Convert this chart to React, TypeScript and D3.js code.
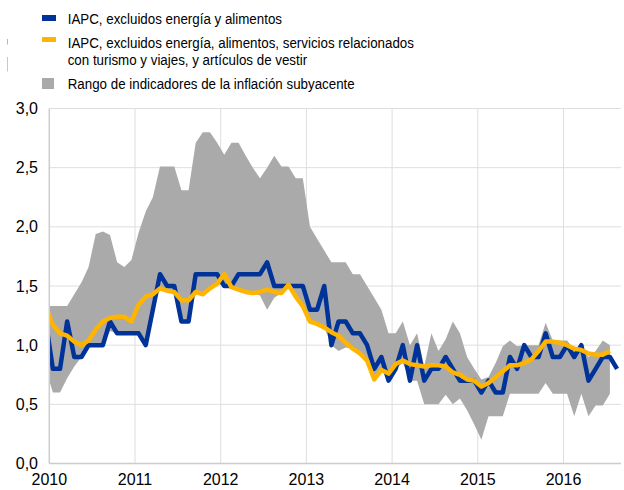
import React from "react";
import * as d3 from "d3";

// Monthly series, first entry = Dec 2009 (clipped at the axis)
const START_YEAR = 2009;
const START_MONTH = 11; // 0-based month of first value

const coreExEnergyFood = [
  1.2,
  0.8, 0.8, 1.2, 0.9, 0.9, 1.0, 1.0, 1.0, 1.2, 1.1, 1.1, 1.1,
  1.1, 1.0, 1.3, 1.6, 1.5, 1.5, 1.2, 1.2, 1.6, 1.6, 1.6, 1.6,
  1.5, 1.5, 1.6, 1.6, 1.6, 1.6, 1.7, 1.5, 1.5, 1.5, 1.5, 1.5,
  1.3, 1.3, 1.5, 1.0, 1.2, 1.2, 1.1, 1.1, 1.0, 0.8, 0.9, 0.7,
  0.8, 1.0, 0.7, 1.0, 0.7, 0.8, 0.8, 0.9, 0.8, 0.7, 0.7, 0.7,
  0.6, 0.7, 0.6, 0.6, 0.9, 0.8, 1.0, 0.9, 0.9, 1.1, 0.9, 0.9,
  1.0, 0.9, 1.0, 0.7, 0.8, 0.9, 0.9, 0.8,
];

const coreExTravelClothing = [
  1.33,
  1.17, 1.10, 1.08, 1.03, 1.00, 1.04, 1.13, 1.20, 1.23, 1.24, 1.24, 1.20,
  1.34, 1.41, 1.43, 1.48, 1.46, 1.45, 1.38, 1.38, 1.45, 1.43, 1.48, 1.52,
  1.60, 1.49, 1.47, 1.45, 1.44, 1.45, 1.47, 1.45, 1.44, 1.51, 1.41, 1.33,
  1.20, 1.18, 1.15, 1.11, 1.08, 1.02, 0.97, 0.93, 0.87, 0.71, 0.79, 0.76,
  0.84, 0.87, 0.84, 0.83, 0.82, 0.83, 0.83, 0.82, 0.77, 0.75, 0.71, 0.70,
  0.65, 0.68, 0.73, 0.78, 0.83, 0.83, 0.85, 0.88, 0.95, 1.03, 1.03, 1.02,
  1.00, 0.97, 0.96, 0.93, 0.92, 0.92, 0.95,
];

const rangeUpper = [
  1.33,
  1.33, 1.33, 1.33, 1.43, 1.53, 1.66, 1.94, 1.96, 1.93, 1.70, 1.66, 1.72,
  1.95, 2.13, 2.25, 2.51, 2.51, 2.51, 2.31, 2.31, 2.71, 2.80, 2.80, 2.71,
  2.61, 2.71, 2.71, 2.60, 2.50, 2.41, 2.50, 2.60, 2.51, 2.51, 2.41, 2.41,
  2.00, 1.90, 1.80, 1.70, 1.70, 1.70, 1.60, 1.60, 1.50, 1.40, 1.30, 1.10,
  1.10, 1.20, 1.00, 1.10, 0.82, 1.10, 0.95, 1.05, 1.20, 1.10, 0.90, 0.80,
  0.71, 0.73, 0.85, 0.99, 1.04, 0.99, 1.00, 1.00, 1.00, 1.19, 1.04, 1.04,
  1.04, 0.96, 0.99, 0.90, 0.95, 1.04, 1.00,
];

const rangeLower = [
  0.8,
  0.60, 0.60, 0.72, 0.82, 0.90, 1.00, 1.00, 1.00, 1.12, 1.10, 1.10, 1.10,
  1.10, 1.00, 1.30, 1.48, 1.46, 1.45, 1.20, 1.20, 1.45, 1.43, 1.48, 1.52,
  1.50, 1.49, 1.47, 1.45, 1.44, 1.42, 1.30, 1.40, 1.44, 1.50, 1.41, 1.33,
  1.20, 1.18, 1.15, 1.00, 0.95, 0.98, 0.97, 0.93, 0.87, 0.71, 0.79, 0.70,
  0.80, 0.85, 0.70, 0.70, 0.50, 0.50, 0.50, 0.58, 0.50, 0.55, 0.45, 0.33,
  0.20, 0.40, 0.40, 0.40, 0.59, 0.59, 0.59, 0.59, 0.59, 0.68, 0.59, 0.59,
  0.59, 0.40, 0.59, 0.40, 0.49, 0.49, 0.59,
];

const yTicks = [0, 0.5, 1.0, 1.5, 2.0, 2.5, 3.0];
const xTicks = [2010, 2011, 2012, 2013, 2014, 2015, 2016];

const legendLabels = [
  ["IAPC, excluidos energía y alimentos"],
  ["IAPC, excluidos energía, alimentos, servicios relacionados", "con turismo y viajes, y artículos de vestir"],
  ["Rango de indicadores de la inflación subyacente"],
];

const BLUE = "#003399";
const YELLOW = "#FFB400";
const GREY = "#AAAAAA";
const FONT = "'Liberation Sans', Arial, sans-serif";

const monthTime = (i: number) => START_YEAR + (START_MONTH + i + 0.5) / 12;

export default function App() {
  const left = 49.3;
  const right = 621;
  const top = 108.5;
  const bottom = 463.5;
  const yearW = 85.7;

  const x = d3.scaleLinear().domain([2010, 2017]).range([left, left + 7 * yearW]);
  const y = d3.scaleLinear().domain([0, 3]).range([bottom, top]);

  const band = rangeUpper.map((u, i) => ({ t: monthTime(i), hi: u, lo: rangeLower[i] }));
  const area = d3
    .area<{ t: number; hi: number; lo: number }>()
    .x((d) => x(d.t))
    .y0((d) => y(d.lo))
    .y1((d) => y(d.hi));

  const line = d3
    .line<{ t: number; v: number }>()
    .x((d) => x(d.t))
    .y((d) => y(d.v));

  const blueData = coreExEnergyFood.map((v, i) => ({ t: monthTime(i), v }));
  const yellowData = coreExTravelClothing.map((v, i) => ({ t: monthTime(i), v }));

  const fmt = (v: number) => d3.format(".1f")(v).replace(".", ",");

  return (
    <svg
      width={624}
      height={490}
      style={{ position: "absolute", left: 0, top: 0, background: "#fff" }}
      fontFamily={FONT}
    >
      <defs>
        <clipPath id="plot">
          <rect x={left} y={0} width={right - left} height={bottom} />
        </clipPath>
      </defs>

      {/* gridlines */}
      {yTicks.filter((t) => t > 0).map((t) => (
        <line key={"gy" + t} x1={left} x2={right} y1={y(t)} y2={y(t)} stroke="#dedede" strokeWidth={1} />
      ))}
      {xTicks.filter((t) => t > 2010).map((t) => (
        <line key={"gx" + t} x1={x(t)} x2={x(t)} y1={top} y2={bottom} stroke="#dedede" strokeWidth={1} />
      ))}

      <g clipPath="url(#plot)">
        <path d={area(band) || ""} fill={GREY} stroke="none" />
        <path d={line(blueData) || ""} fill="none" stroke={BLUE} strokeWidth={4.5} strokeLinejoin="round" />
        <path d={line(yellowData) || ""} fill="none" stroke={YELLOW} strokeWidth={4.5} strokeLinejoin="round" />
      </g>

      {/* axes */}
      <line x1={left} x2={left} y1={top} y2={bottom} stroke="#cccccc" strokeWidth={1.5} />
      <line x1={left} x2={right} y1={bottom} y2={bottom} stroke="#cccccc" strokeWidth={1.5} />

      {yTicks.map((t) => (
        <text key={"ty" + t} x={38} y={y(t) + 5.5} textAnchor="end" fontSize={16} fill="#000">
          {fmt(t)}
        </text>
      ))}
      {xTicks.map((t) => (
        <text key={"tx" + t} x={x(t)} y={485} textAnchor="middle" fontSize={16} fill="#000">
          {t}
        </text>
      ))}

      {/* small edge marks */}
      <line x1={7.5} x2={7.5} y1={39} y2={44.5} stroke={YELLOW} strokeWidth={1} />
      <line x1={7.5} x2={7.5} y1={57} y2={71.5} stroke="#c8c8c8" strokeWidth={1} />

      {/* legend */}
      <rect x={42} y={15} width={14} height={6} fill={BLUE} />
      <rect x={42} y={37} width={14} height={5} fill={YELLOW} />
      <rect x={42} y={78} width={12} height={11} fill={GREY} />
      <g fontSize={15} fill="#000">
        <text transform="translate(67.7,24.3) scale(0.89,1)">{legendLabels[0][0]}</text>
        <text transform="translate(67.7,48.3) scale(0.89,1)">{legendLabels[1][0]}</text>
        <text transform="translate(67.7,65.3) scale(0.89,1)">{legendLabels[1][1]}</text>
        <text transform="translate(67.7,89.3) scale(0.89,1)">{legendLabels[2][0]}</text>
      </g>
    </svg>
  );
}
